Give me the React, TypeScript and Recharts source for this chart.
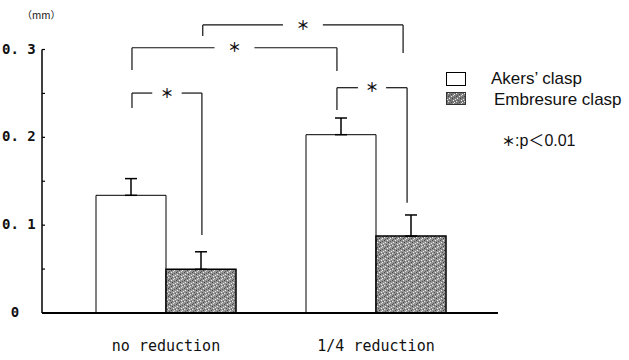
import React from 'react';
import { BarChart, Bar, XAxis, YAxis, ErrorBar, ReferenceLine, ReferenceDot } from 'recharts';

// ---- data ----
const groups = ['no reduction', '1/4 reduction'];
const groupPos = [0, 1];
const akers = [0.134, 0.203];
const akersErr = [0.019, 0.019];
const embrasure = [0.0497, 0.0876];
const embrasureErr = [0.02, 0.024];
const yTicks = [0, 0.05, 0.1, 0.15, 0.2, 0.25, 0.3];
const yTickLabels = ['0', '', '0. 1', '', '0. 2', '', '0. 3'];

// significance brackets (x in group units, y in mm)
const bracketLeftX = [0.175, -0.162, -0.162, 0.814];
const bracketRightX = [1.129, 0.814, 0.171, 1.148];
const bracketY = [0.328, 0.302, 0.2504, 0.2565];
const bracketLeftEnd = [0.3153, 0.2766, 0.2334, 0.2311];
const bracketRightEnd = [0.296, 0.2755, 0.0888, 0.1256];
const bracketGap = [0.095, 0.095, 0.07, 0.067];

const data = groups.map((g, i) => ({
  x: groupPos[i],
  name: g,
  akers: akers[i],
  akersErr: [0, akersErr[i]],
  embrasure: embrasure[i],
  embrasureErr: [0, embrasureErr[i]],
}));

const Stipple = ({ id, base }: { id: string; base: string }) => (
  <pattern id={id} width={8} height={8} patternUnits="userSpaceOnUse">
    <rect width={8} height={8} fill={base} />
    <rect x={0} y={0} width={1} height={1} fill="#444" />
    <rect x={3} y={0} width={1} height={1} fill="#eee" />
    <rect x={6} y={1} width={1} height={1} fill="#555" />
    <rect x={1} y={2} width={1} height={1} fill="#f2f2f2" />
    <rect x={4} y={2} width={1} height={1} fill="#3a3a3a" />
    <rect x={7} y={3} width={1} height={1} fill="#e6e6e6" />
    <rect x={2} y={4} width={1} height={1} fill="#505050" />
    <rect x={5} y={4} width={1} height={1} fill="#f0f0f0" />
    <rect x={0} y={5} width={1} height={1} fill="#e8e8e8" />
    <rect x={3} y={6} width={1} height={1} fill="#444" />
    <rect x={6} y={6} width={1} height={1} fill="#ececec" />
    <rect x={1} y={7} width={1} height={1} fill="#5a5a5a" />
    <rect x={5} y={7} width={1} height={1} fill="#dcdcdc" />
    <rect x={7} y={5} width={1} height={1} fill="#606060" />
    <rect x={4} y={5} width={1} height={1} fill="#6a6a6a" />
    <rect x={2} y={1} width={1} height={1} fill="#707070" />
  </pattern>
);

const YTick = (props: any) => {
  const { x, y, index } = props;
  const label = yTickLabels[index] ?? '';
  const isZero = label === '0';
  return (
    <g>
      <line x1={x} x2={x + 3} y1={y} y2={y} stroke="#000" strokeWidth={1.2} />
      {label && (
        <text
          x={isZero ? 15 : 2}
          y={y - 1}
          dy="0.36em"
          textAnchor={isZero ? 'middle' : 'start'}
          fontFamily="DejaVu Sans Mono"
          fontWeight="bold"
          fontSize={14}
          fill="#111"
        >
          {label}
        </text>
      )}
    </g>
  );
};

const XTick = (props: any) => {
  const { x, y, payload } = props;
  const i = groupPos.indexOf(payload.value);
  return (
    <text x={x} y={y} dy={38} textAnchor="middle" fontFamily="DejaVu Sans Mono" fontSize={15} fill="#111">
      {groups[i] ?? ''}
    </text>
  );
};

const Star = (props: any) => (
  <text
    x={props.cx}
    y={props.cy}
    dy="0.36em"
    textAnchor="middle"
    fontFamily="Noto Sans CJK JP"
    fontWeight="bold"
    fontSize={13}
    fill="#111"
  >
    ＊
  </text>
);

export default function App() {
  const lineProps = { stroke: '#111', strokeWidth: 1.2, ifOverflow: 'visible' as const };
  const refs: React.ReactNode[] = [];
  bracketY.forEach((yv, i) => {
    const L = bracketLeftX[i];
    const R = bracketRightX[i];
    const mid = (L + R) / 2;
    const g = bracketGap[i];
    refs.push(
      <ReferenceLine key={`l${i}`} {...lineProps} segment={[{ x: L, y: bracketLeftEnd[i] }, { x: L, y: yv }]} />,
      <ReferenceLine key={`a${i}`} {...lineProps} segment={[{ x: L, y: yv }, { x: mid - g, y: yv }]} />,
      <ReferenceLine key={`b${i}`} {...lineProps} segment={[{ x: mid + g, y: yv }, { x: R, y: yv }]} />,
      <ReferenceLine key={`r${i}`} {...lineProps} segment={[{ x: R, y: yv }, { x: R, y: bracketRightEnd[i] }]} />,
      <ReferenceDot key={`s${i}`} x={mid} y={yv} r={0} ifOverflow="visible" shape={Star} />
    );
  });

  return (
    <div style={{ position: 'absolute', left: 0, top: 0, width: 629, height: 360, background: '#fff' }}>
      <BarChart
        width={629}
        height={360}
        data={data}
        margin={{ top: 49.5, right: 131, bottom: 17, left: 0 }}
        barGap={0}
      >
        <defs>
          <Stipple id="stippleBar" base="#949494" />
        </defs>
        <XAxis
          dataKey="x"
          type="number"
          domain={[0, 1]}
          ticks={groupPos}
          padding={{ left: 124, right: 122 }}
          height={30}
          tickLine={false}
          tickSize={0}
          tickMargin={0}
          axisLine={{ stroke: '#000', strokeWidth: 2 }}
          tick={<XTick />}
          interval={0}
        />
        <YAxis
          type="number"
          domain={[0, 0.3]}
          ticks={yTicks}
          width={42}
          tickLine={false}
          tickSize={0}
          tickMargin={0}
          axisLine={{ stroke: '#000', strokeWidth: 1.5 }}
          tick={<YTick />}
          interval={0}
        />
        <Bar dataKey="akers" fill="#fff" stroke="#000" strokeWidth={1} barSize={70} isAnimationActive={false}>
          <ErrorBar dataKey="akersErr" width={6} stroke="#000" strokeWidth={1.5} direction="y" />
        </Bar>
        <Bar dataKey="embrasure" fill="url(#stippleBar)" stroke="#000" strokeWidth={1.5} barSize={70} isAnimationActive={false}>
          <ErrorBar dataKey="embrasureErr" width={6} stroke="#000" strokeWidth={1.5} direction="y" />
        </Bar>
        {refs}
      </BarChart>
      <svg width={629} height={360} style={{ position: 'absolute', left: 0, top: 0, pointerEvents: 'none' }}>
        <defs>
          <Stipple id="stippleLegend" base="#7c7c7c" />
        </defs>
        <text x={22} y={19} fontFamily="Noto Sans CJK JP" fontSize={10} fill="#111">（mm）</text>
        <rect x={446.5} y={72.5} width={19} height={13} fill="#fff" stroke="#000" strokeWidth={1} />
        <rect x={446.5} y={92.5} width={19} height={12} fill="url(#stippleLegend)" stroke="#333" strokeWidth={1} />
        <text x={491} y={84} fontFamily="Liberation Sans" fontSize={17} fill="#111">Akers’ clasp</text>
        <text x={494} y={105} fontFamily="Liberation Sans" fontSize={17} fill="#111">Embresure clasp</text>
        <text x={502} y={146} fontFamily="Liberation Sans, Noto Sans CJK JP" fontSize={16} fill="#111">
          <tspan fontFamily="Noto Sans CJK JP" fontWeight="bold" fontSize={13}>＊</tspan>
          <tspan>:p</tspan>
          <tspan fontFamily="Noto Sans CJK JP">＜</tspan>
          <tspan>0.01</tspan>
        </text>
      </svg>
    </div>
  );
}
